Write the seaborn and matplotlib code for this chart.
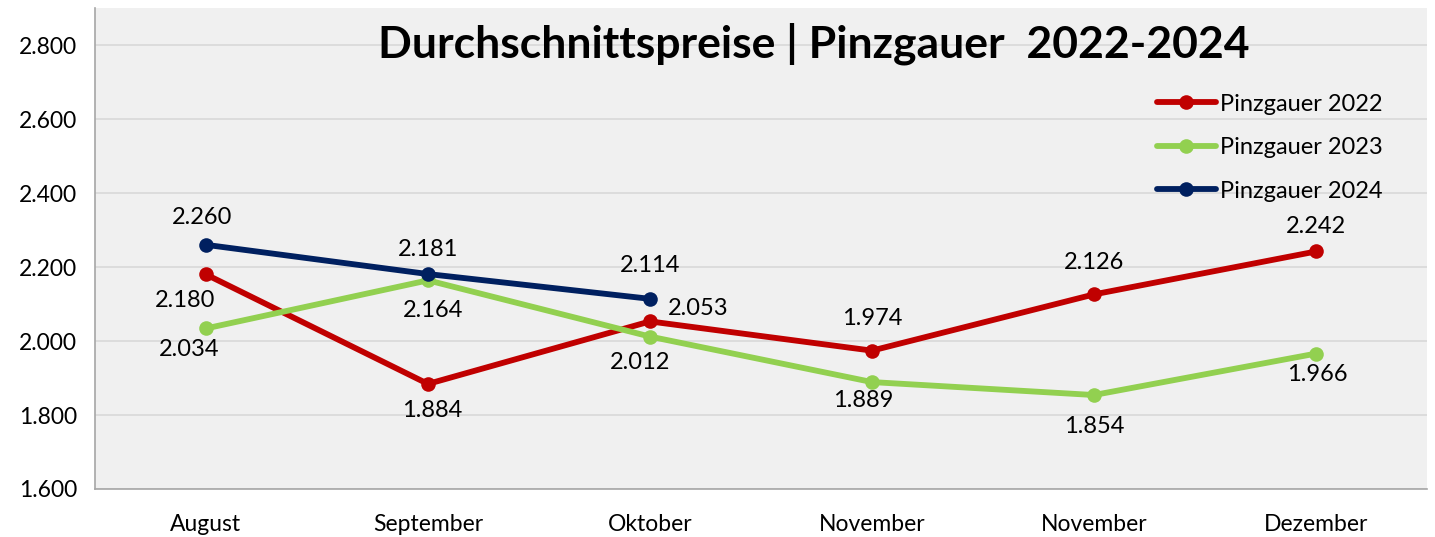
import seaborn as sns
import numpy as np
import pandas as pd
import matplotlib.pyplot as plt
from matplotlib.ticker import FixedLocator, FuncFormatter

months = ["August", "September", "Oktober", "November", "November", "Dezember"]
series_names = ["Pinzgauer 2022", "Pinzgauer 2023", "Pinzgauer 2024"]
p2022 = [2.180, 1.884, 2.053, 1.974, 2.126, 2.242]
p2023 = [2.034, 2.164, 2.012, 1.889, 1.854, 1.966]
p2024 = [2.260, 2.181, 2.114]
colors = ["#C00000", "#92D050", "#002060"]

# label placement per point (dx, dy in points)
off2022 = [(-15, -19), (3, -19), (35, 9), (0, 23), (0, 23), (0, 18)]
off2023 = [(-12, -15), (4, -22), (-7, -19), (-6, -13), (0, -23), (1, -15)]
off2024 = [(-3, 20), (0, 18), (0, 24)]

sns.set_style("white")
plt.rcParams["font.family"] = ["Lato", "DejaVu Sans"]
plt.rcParams["text.color"] = "black"
plt.rcParams["xtick.color"] = "black"
plt.rcParams["ytick.color"] = "black"

rows = []
for name, vals in zip(series_names, [p2022, p2023, p2024]):
    for i, v in enumerate(vals):
        rows.append({"x": i, "Preis": v, "Serie": name})
df = pd.DataFrame(rows)

fig = plt.figure(figsize=(14.35, 5.37), dpi=100)
ax = fig.add_axes([0.0662, 0.0894, 0.9282, 0.8956])
ax.set_facecolor("#F0F0F0")

sns.lineplot(data=df, x="x", y="Preis", hue="Serie", palette=colors,
             marker="o", markersize=10.5, markeredgewidth=0, linewidth=4.2,
             ax=ax, legend=True)

for vals, offs in zip([p2022, p2023, p2024], [off2022, off2023, off2024]):
    for i, (v, o) in enumerate(zip(vals, offs)):
        ax.annotate(f"{v:.3f}", (i, v), xytext=o, textcoords="offset points",
                    ha="center", va="center", fontsize=17, color="black")

ax.set_xlim(-0.5, 5.5)
ax.set_ylim(1.6, 2.9)
ax.set_yticks(np.arange(1.6, 2.81, 0.2))
ax.yaxis.set_major_formatter(FuncFormatter(lambda v, p: f"{v:.3f}"))
ax.yaxis.grid(True, color="#D9D9D9", linewidth=1.2)
ax.set_axisbelow(True)

ax.xaxis.set_major_locator(FixedLocator(np.arange(-0.5, 5.6, 1)))
ax.xaxis.set_minor_locator(FixedLocator(np.arange(6)))
ax.set_xticklabels([])
ax.set_xticklabels(months, minor=True)
ax.tick_params(axis="x", which="major", length=7, color="#A6A6A6", width=1)
ax.tick_params(axis="x", which="minor", length=0, labelsize=16.5, pad=18)
ax.tick_params(axis="y", length=7, color="#A6A6A6", width=1, labelsize=16.5, pad=6)
ax.set_xlabel("")
ax.set_ylabel("")

for s in ["top", "right"]:
    ax.spines[s].set_visible(False)
for s in ["left", "bottom"]:
    ax.spines[s].set_color("#A6A6A6")
    ax.spines[s].set_linewidth(1.2)

ax.text(0.54, 0.925, "Durchschnittspreise | Pinzgauer  2022-2024", transform=ax.transAxes,
        ha="center", va="center", fontsize=32, fontweight="bold", color="black")

handles, labels = ax.get_legend_handles_labels()
ax.legend(handles, labels, loc="upper left", bbox_to_anchor=(0.797, 0.822),
          frameon=False, fontsize=17, handlelength=2.5, handletextpad=0.2,
          labelspacing=0.95, borderaxespad=0, borderpad=0)

fig.savefig("out.png", dpi=100)
